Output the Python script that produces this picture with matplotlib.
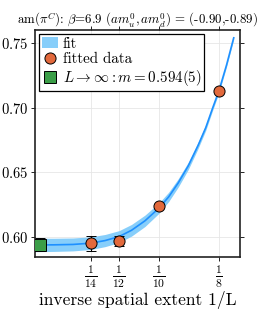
import numpy as np
import matplotlib
matplotlib.use("Agg")
import matplotlib.pyplot as plt
from matplotlib.patches import Patch
from matplotlib.lines import Line2D

plt.rcParams['font.family'] = ['cmr10', 'DejaVu Serif']
plt.rcParams['mathtext.fontset'] = 'cm'
plt.rcParams['axes.formatter.use_mathtext'] = True

# measured masses vs spatial extent L
L_vals = [14, 12, 10, 8]
m_vals = [0.5951, 0.5969, 0.6242, 0.7128]
m_err = [0.0056, 0.0040, 0.0015, 0.0010]

# infinite volume result (drawn at the left edge)
x_inf = 0.050
m_inf = 0.594
m_inf_err = 0.005

# fit curve, with its error band
fit_x = [0.048, 0.056, 0.064, 0.0714, 0.0774, 0.0833, 0.0885, 0.0941, 0.100,
         0.104, 0.108, 0.1122, 0.1163, 0.1195, 0.1224, 0.125, 0.1282, 0.1312]
fit_y = [0.5938, 0.5939, 0.5942, 0.5952, 0.5972, 0.6003, 0.6052, 0.6125, 0.6224,
         0.6310, 0.6418, 0.6550, 0.6708, 0.6845, 0.6998, 0.7129, 0.7330, 0.7540]
fit_dy = [0.0052, 0.0051, 0.0050, 0.0049, 0.0047, 0.0046, 0.0045, 0.0044, 0.0040,
          0.0036, 0.0032, 0.0028, 0.0024, 0.0021, 0.0018, 0.0016, 0.0014, 0.0013]

yticks = [0.60, 0.65, 0.70, 0.75]

fig = plt.figure(figsize=(2.66, 3.10), dpi=100)
ax = fig.add_axes([0.1316, 0.171, 0.7704, 0.732])

inv_L = 1.0 / np.array(L_vals)
fx = np.array(fit_x)
fy = np.array(fit_y)
fdy = np.array(fit_dy)

ax.fill_between(fx, fy - fdy, fy + fdy, color='#87cefa', lw=0, zorder=2)
ax.plot(fx, fy, color='#1e90ff', lw=1.2, zorder=3)
ax.errorbar(inv_L, m_vals, yerr=m_err, fmt='o', ms=8, mfc='#e2693c', mec='black',
            mew=0.7, ecolor='black', elinewidth=0.8, capsize=3.5, capthick=0.8, zorder=4)
ax.errorbar([x_inf], [m_inf], yerr=[m_inf_err], fmt='s', ms=8, mfc='#3b9e48', mec='black',
            mew=0.7, ecolor='black', elinewidth=0.8, capsize=3.5, capthick=0.8, zorder=4)

ax.set_xlim(0.0481, 0.1338)
ax.set_ylim(0.5845, 0.760)
ax.set_xticks(inv_L)
ax.set_xticklabels([r'$\frac{1}{%d}$' % L for L in L_vals], fontsize=12)
ax.set_yticks(yticks)
ax.set_yticklabels([r'$%.2f$' % v for v in yticks], fontsize=10.5)
ax.grid(True, color='#e6e6e6', lw=0.6)
ax.set_axisbelow(True)
ax.tick_params(axis='both', direction='out', length=3, width=0.6, pad=2)
ax.tick_params(top=True, right=True)
for s in ax.spines.values():
    s.set_linewidth(1.2)
    s.set_color('#222222')

ax.set_title(r'am($\pi^C$): $\beta$=6.9 ($am^0_u, am^0_d$) = (-0.90,-0.89)',
             fontsize=9.3, pad=5)
ax.set_xlabel('inverse spatial extent 1/L', fontsize=12.6, labelpad=1)

handles = [
    Patch(facecolor='#87cefa', edgecolor='none'),
    Line2D([], [], marker='o', ls='none', ms=8, mfc='#e2693c', mec='black', mew=0.7),
    Line2D([], [], marker='s', ls='none', ms=8, mfc='#3b9e48', mec='black', mew=0.7),
]
labels = ['fit', 'fitted data', r'$L \rightarrow \infty: m = 0.594(5)$']
leg = ax.legend(handles, labels, loc='upper left', fontsize=10.8, frameon=True,
                fancybox=False, edgecolor='black', framealpha=1,
                borderpad=0.2, handlelength=1.1, handletextpad=0.3,
                labelspacing=0.12, borderaxespad=0.25)
leg.get_frame().set_linewidth(0.9)

fig.savefig('out.png', dpi=100)
